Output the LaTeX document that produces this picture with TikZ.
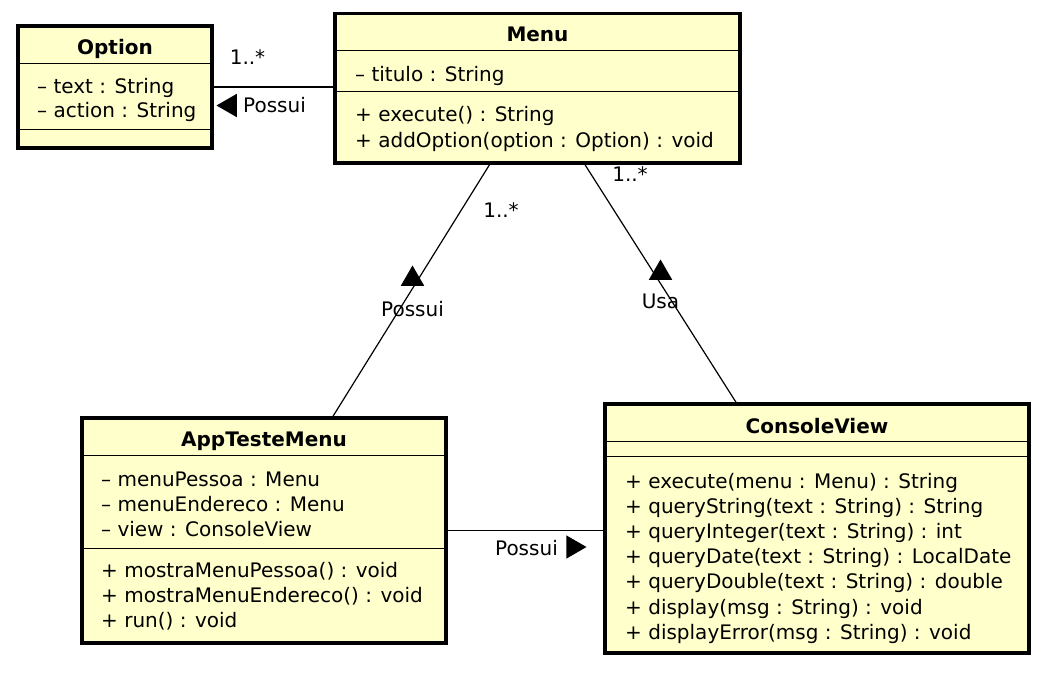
\documentclass[tikz,border=0pt]{standalone}
\usepackage{fontspec}
\setmainfont{DejaVu Sans}
\usetikzlibrary{calc,shapes.geometric}
\definecolor{umlfill}{RGB}{255,255,204}
\begin{document}
\begin{tikzpicture}
	[	x=1pt,y=-1pt,
	cls/.style={rectangle,draw=black,fill=umlfill,line width=3.5pt,inner sep=0pt},
	sep/.style={line width=1pt},
	title/.style={font=\fontsize{20}{25}\bfseries\selectfont,anchor=base,inner sep=0pt},
	member/.style={font=\fontsize{20}{25}\selectfont,anchor=base west,inner sep=0pt},
	lbl/.style={font=\fontsize{20}{25}\selectfont,anchor=base,inner sep=0pt},
	assoc/.style={line width=1.2pt},
	dir/.style={regular polygon,regular polygon sides=3,fill=black,inner sep=0pt,minimum size=27pt}
	]
	\useasboundingbox (0,0) rectangle (1052,674);

	% class boxes
	\node[cls,minimum width=194pt,minimum height=122pt] (option) at (115,87) {};
	\node[cls,minimum width=405pt,minimum height=149.5pt] (menu) at (537.5,88.25) {};
	\node[cls,minimum width=364pt,minimum height=225pt] (app) at (264,530.5) {};
	\node[cls,minimum width=424pt,minimum height=249pt] (view) at (817,528.5) {};

	% compartments
	\draw[sep] ($(option.north west)+(0,39)$) -- ($(option.north east)+(0,39)$);
	\draw[sep] ($(option.north west)+(0,105)$) -- ($(option.north east)+(0,105)$);
	\draw[sep] ($(menu.north west)+(0,38.5)$) -- ($(menu.north east)+(0,38.5)$);
	\draw[sep] ($(menu.north west)+(0,79.5)$) -- ($(menu.north east)+(0,79.5)$);
	\draw[sep] ($(app.north west)+(0,39)$) -- ($(app.north east)+(0,39)$);
	\draw[sep] ($(app.north west)+(0,132)$) -- ($(app.north east)+(0,132)$);
	\draw[sep] ($(view.north west)+(0,39)$) -- ($(view.north east)+(0,39)$);
	\draw[sep] ($(view.north west)+(0,54)$) -- ($(view.north east)+(0,54)$);

	% Option
	\node[title] (option-name) at (115,55) {Option};
	\foreach \t [count=\i from 0] in {{– text : String},{– action : String}}
		\node[member] (option-a\i) at (37,{94+24*\i}) {\t};

	% Menu
	\node[title] (menu-name) at (537.5,42) {Menu};
	\node[member] (menu-a0) at (355,82) {– titulo : String};
	\foreach \t [count=\i from 0] in {{+ execute() : String},{+ addOption(option : Option) : void}}
		\node[member] (menu-m\i) at (355,{122+25*\i}) {\t};

	% AppTesteMenu
	\node[title] (app-name) at (264,446) {AppTesteMenu};
	\foreach \t [count=\i from 0] in {{– menuPessoa : Menu},{– menuEndereco : Menu},{– view : ConsoleView}}
		\node[member] (app-a\i) at (101,{486+25*\i}) {\t};
	\foreach \t [count=\i from 0] in {{+ mostraMenuPessoa() : void},{+ mostraMenuEndereco() : void},{+ run() : void}}
		\node[member] (app-m\i) at (101,{577+25*\i}) {\t};

	% ConsoleView
	\node[title] (view-name) at (817,433) {ConsoleView};
	\foreach \t [count=\i from 0] in {{+ execute(menu : Menu) : String},{+ queryString(text : String) : String},
		{+ queryInteger(text : String) : int},{+ queryDate(text : String) : LocalDate},
		{+ queryDouble(text : String) : double},{+ display(msg : String) : void},
		{+ displayError(msg : String) : void}}
		\node[member] (view-m\i) at (625,{488+25.2*\i}) {\t};

	% associations
	\draw[assoc] (option.east) -- (option.east -| menu.west);
	\draw[assoc] ($(menu.south)+(-48,0)$) -- ($(app.north)+(69,0)$);
	\draw[assoc] ($(menu.south)+(47.5,0)$) -- ($(view.north)+(-81,0)$);
	\draw[assoc] (app.east) -- (app.east -| view.west);

	% labels
	\node[lbl] (m-option) at (247.5,65) {1..*};
	\node[dir,shape border rotate=90] (d-option) at (230,105.5) {};
	\node[lbl,anchor=base west] (l-option) at (243,113) {Possui};

	\node[lbl] (m-app) at (501,217) {1..*};
	\node[dir] (d-app) at (412.5,279) {};
	\node[lbl] (l-app) at (412.5,316) {Possui};

	\node[lbl] (m-view) at (630,182) {1..*};
	\node[dir] (d-view) at (660.5,273) {};
	\node[lbl] (l-view) at (660.5,308) {Usa};

	\node[lbl,anchor=base east] (l-use) at (558,555) {Possui};
	\node[dir,shape border rotate=-90] (d-use) at (573,547) {};
\end{tikzpicture}
\end{document}
